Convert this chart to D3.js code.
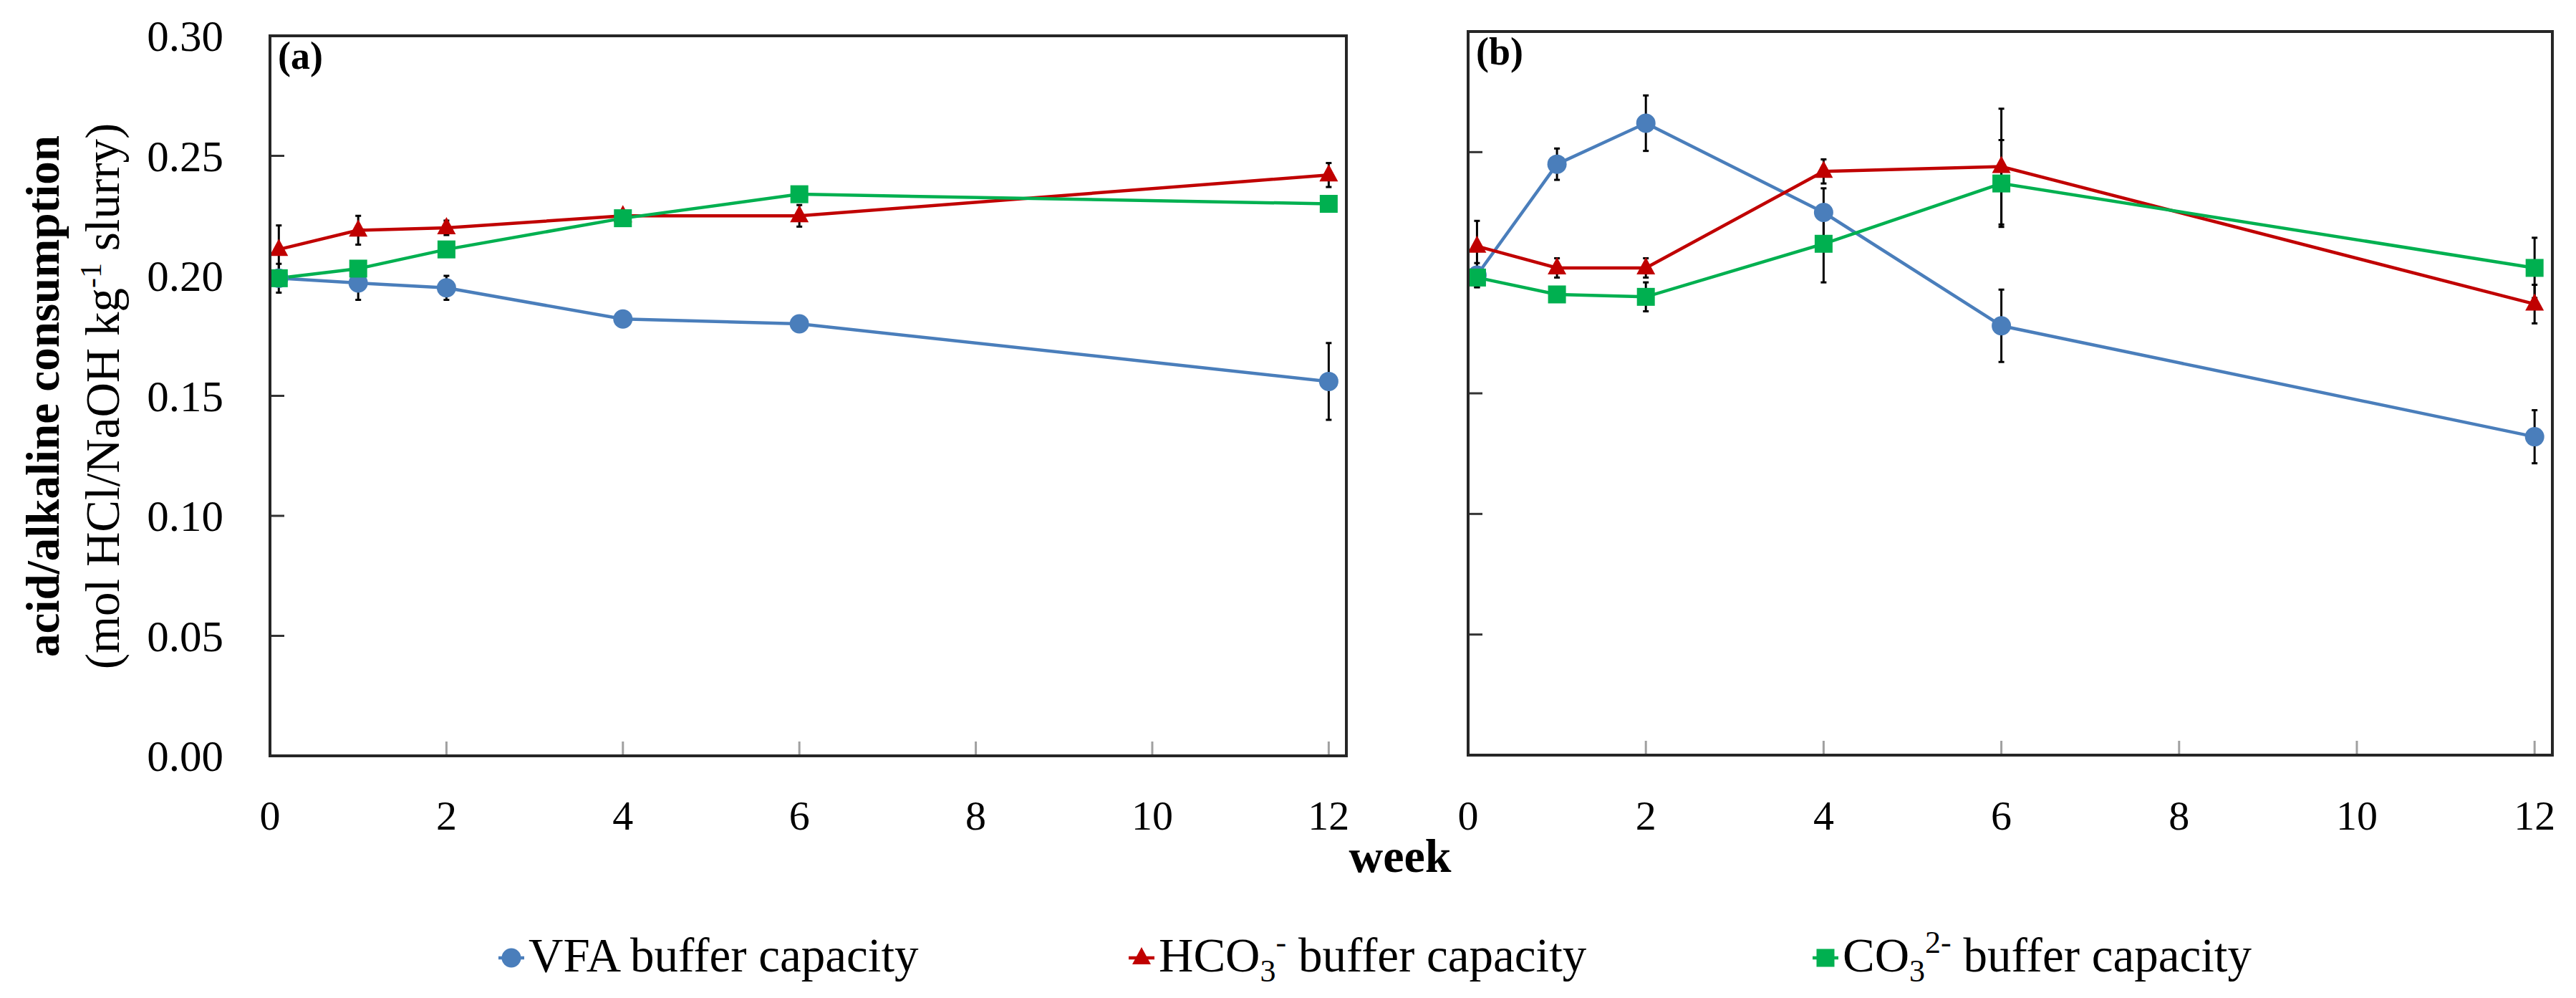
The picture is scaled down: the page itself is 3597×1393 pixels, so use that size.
<!DOCTYPE html>
<html>
<head>
<meta charset="utf-8">
<script src="https://cdn.jsdelivr.net/npm/d3@7"></script>
<style>
  html, body { margin: 0; padding: 0; background: #fff; }
  text { font-family: "Palatino Linotype", "Book Antiqua", Palatino, "Liberation Serif", serif; fill: #000; }
</style>
</head>
<body>
<svg id="canvas" width="3597" height="1393"></svg>
<script>
/********** Data **********/
var weeks = [0.1, 1, 2, 4, 6, 12];
var xTicks = [0, 2, 4, 6, 8, 10, 12];
var yTicks = [0, 0.05, 0.10, 0.15, 0.20, 0.25, 0.30];

// panel (a)
var vfaA     = [0.199, 0.197, 0.195, 0.182, 0.180, 0.156];
var vfaAErr  = [0.006, 0.007, 0.005, 0.002, 0.002, 0.016];
var hco3A    = [0.211, 0.219, 0.220, 0.225, 0.225, 0.242];
var hco3AErr = [0.010, 0.006, 0.003, 0.002, 0.0045, 0.005];
var co3A     = [0.199, 0.203, 0.211, 0.224, 0.234, 0.230];
var co3AErr  = [0.003, 0.002, 0.002, 0.002, 0.002, 0.002];

// panel (b)
var vfaB     = [0.199, 0.245, 0.262, 0.225, 0.178, 0.132];
var vfaBErr  = [0.005, 0.0065, 0.0115, 0.010, 0.015, 0.011];
var hco3B    = [0.211, 0.202, 0.202, 0.242, 0.244, 0.187];
var hco3BErr = [0.0105, 0.004, 0.004, 0.005, 0.024, 0.008];
var co3B     = [0.198, 0.191, 0.190, 0.212, 0.237, 0.202];
var co3BErr  = [0.004, 0.003, 0.006, 0.016, 0.018, 0.0125];

var seriesColors = ["#4a7ebb", "#c00000", "#00b050"];
var seriesShapes = ["circle", "triangle", "square"];

/********** Setup **********/
var svg = d3.select("#canvas");

function marker(g, shape, color, x, y) {
  if (shape === "circle") {
    g.append("circle").attr("cx", x).attr("cy", y).attr("r", 13.5).attr("fill", color);
  } else if (shape === "square") {
    g.append("rect").attr("x", x - 12.5).attr("y", y - 12.5)
      .attr("width", 25).attr("height", 25).attr("fill", color);
  } else {
    g.append("path")
      .attr("d", "M" + x + "," + (y - 15) + "L" + (x + 13) + "," + (y + 9) + "L" + (x - 13) + "," + (y + 9) + "Z")
      .attr("fill", color);
  }
}

function drawPanel(opts) {
  var x = d3.scaleLinear().domain([0, 12.2]).range([opts.left, opts.right]);
  var y = d3.scaleLinear().domain([0, 0.30]).range([opts.bottom, opts.top]);
  var g = svg.append("g");

  // inner ticks
  g.append("g").selectAll("line").data(yTicks.slice(1, -1)).enter().append("line")
    .attr("x1", opts.left).attr("x2", opts.left + 20)
    .attr("y1", function(d) { return y(d); }).attr("y2", function(d) { return y(d); })
    .attr("stroke", "#333").attr("stroke-width", 3);
  g.append("g").selectAll("line").data(xTicks.slice(1)).enter().append("line")
    .attr("x1", function(d) { return x(d); }).attr("x2", function(d) { return x(d); })
    .attr("y1", opts.bottom).attr("y2", opts.bottom - 20)
    .attr("stroke", "#a0a0a0").attr("stroke-width", 3);

  // x tick labels
  g.append("g").selectAll("text").data(xTicks).enter().append("text")
    .attr("x", function(d) { return x(d); }).attr("y", 1158)
    .attr("text-anchor", "middle").attr("font-size", 58)
    .text(function(d) { return d; });

  // y tick labels
  if (opts.yLabels) {
    g.append("g").selectAll("text").data(yTicks).enter().append("text")
      .attr("x", 312).attr("y", function(d) { return y(d); })
      .attr("dy", "0.35em").attr("text-anchor", "end").attr("font-size", 61)
      .text(function(d) { return d3.format(".2f")(d); });
  }

  var lineGen = d3.line()
    .x(function(d) { return x(d.w); })
    .y(function(d) { return y(d.v); });

  var sets = opts.series.map(function(s) {
    return weeks.map(function(w, i) { return { w: w, v: s.values[i], e: s.errs[i] }; });
  });

  // lines
  sets.forEach(function(pts, k) {
    g.append("path").datum(pts).attr("d", lineGen)
      .attr("fill", "none").attr("stroke", seriesColors[k]).attr("stroke-width", 4.5);
  });

  // error bars
  sets.forEach(function(pts) {
    var eb = g.append("g").attr("stroke", "#000").attr("stroke-width", 3);
    pts.forEach(function(p) {
      var cx = x(p.w), y1 = y(p.v - p.e), y2 = y(p.v + p.e);
      eb.append("line").attr("x1", cx).attr("x2", cx).attr("y1", y1).attr("y2", y2);
      eb.append("line").attr("x1", cx - 4).attr("x2", cx + 4).attr("y1", y1).attr("y2", y1);
      eb.append("line").attr("x1", cx - 4).attr("x2", cx + 4).attr("y1", y2).attr("y2", y2);
    });
  });

  // markers
  sets.forEach(function(pts, k) {
    var mg = g.append("g");
    pts.forEach(function(p) { marker(mg, seriesShapes[k], seriesColors[k], x(p.w), y(p.v)); });
  });

  // frame
  g.append("rect")
    .attr("x", opts.left).attr("y", opts.top)
    .attr("width", opts.right - opts.left).attr("height", opts.bottom - opts.top)
    .attr("fill", "none").attr("stroke", "#262626").attr("stroke-width", 4);

  // panel label
  g.append("text").attr("x", opts.left + 11).attr("y", opts.top + 46)
    .attr("font-size", 54).attr("font-weight", "bold").text(opts.label);
}

drawPanel({
  left: 377, right: 1880, top: 50, bottom: 1055, label: "(a)", yLabels: true,
  series: [
    { values: vfaA, errs: vfaAErr },
    { values: hco3A, errs: hco3AErr },
    { values: co3A, errs: co3AErr }
  ]
});

drawPanel({
  left: 2050, right: 3564, top: 44, bottom: 1054, label: "(b)", yLabels: false,
  series: [
    { values: vfaB, errs: vfaBErr },
    { values: hco3B, errs: hco3BErr },
    { values: co3B, errs: co3BErr }
  ]
});

/********** Axis titles **********/
svg.append("text")
  .attr("transform", "translate(82,553) rotate(-90)")
  .attr("text-anchor", "middle").attr("font-size", 65).attr("font-weight", "bold")
  .text("acid/alkaline consumption");

var yl2 = svg.append("text")
  .attr("transform", "translate(166,553) rotate(-90)")
  .attr("text-anchor", "middle").attr("font-size", 67);
yl2.append("tspan").text("(mol HCl/NaOH kg");
yl2.append("tspan").attr("dy", -25).attr("font-size", 42).text("-1");
yl2.append("tspan").attr("dy", 25).text(" slurry)");

svg.append("text")
  .attr("x", 1955).attr("y", 1217)
  .attr("text-anchor", "middle").attr("font-size", 66).attr("font-weight", "bold")
  .text("week");

/********** Legend **********/
var legendX = [714, 1594, 2549];
var legend = svg.append("g");
legendX.forEach(function(lx, k) {
  var ly = 1337;
  legend.append("line").attr("x1", lx - 18).attr("x2", lx + 18)
    .attr("y1", ly).attr("y2", ly)
    .attr("stroke", seriesColors[k]).attr("stroke-width", 4.5);
  marker(legend, seriesShapes[k], seriesColors[k], lx, ly);

  var t = legend.append("text").attr("x", lx + 24).attr("y", 1356).attr("font-size", 67);
  if (k === 0) {
    t.text("VFA buffer capacity");
  } else if (k === 1) {
    t.append("tspan").text("HCO");
    t.append("tspan").attr("dy", 14).attr("font-size", 44).text("3");
    t.append("tspan").attr("dy", -40).attr("font-size", 44).text("-");
    t.append("tspan").attr("dy", 26).text(" buffer capacity");
  } else {
    t.append("tspan").text("CO");
    t.append("tspan").attr("dy", 14).attr("font-size", 44).text("3");
    t.append("tspan").attr("dy", -40).attr("font-size", 44).text("2-");
    t.append("tspan").attr("dy", 26).text(" buffer capacity");
  }
});
</script>
</body>
</html>
